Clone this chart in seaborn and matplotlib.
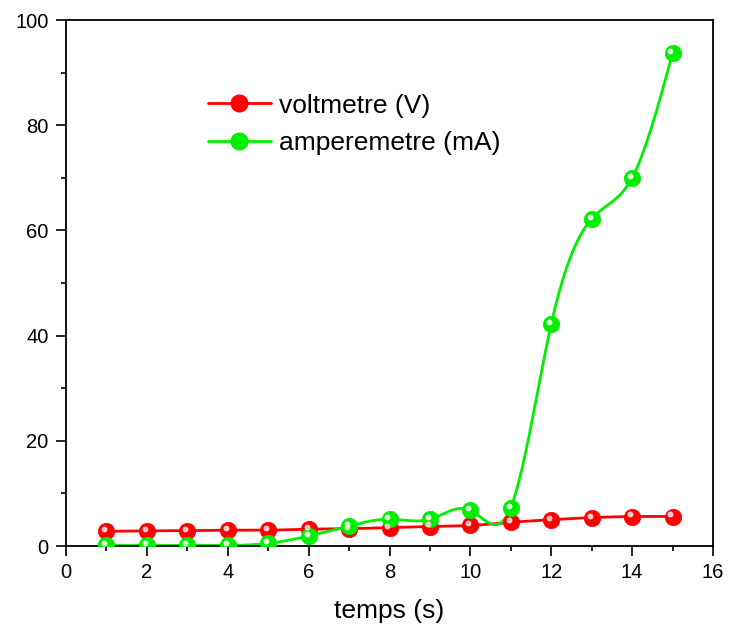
import matplotlib.pyplot as plt
import matplotlib.transforms as mtransforms
from matplotlib.lines import Line2D
import seaborn as sns
import numpy as np

temps = [1, 2, 3, 4, 5, 6, 7, 8, 9, 10, 11, 12, 13, 14, 15]
voltmetre = [2.8, 2.85, 2.9, 3.0, 3.0, 3.2, 3.3, 3.5, 3.7, 3.9, 4.5, 5.0, 5.4, 5.6, 5.6]
amperemetre = [0.1, 0.1, 0.1, 0.1, 0.5, 1.9, 3.8, 5.1, 5.1, 6.8, 7.3, 42.2, 62.2, 70.0, 93.7]


def spline(x, y, n=400):
    # natural cubic spline, like Origin's smoothed line
    x = np.asarray(x, float)
    y = np.asarray(y, float)
    k = len(x)
    h = np.diff(x)
    A = np.zeros((k, k))
    b = np.zeros(k)
    A[0, 0] = A[-1, -1] = 1
    for i in range(1, k - 1):
        A[i, i - 1] = h[i - 1]
        A[i, i] = 2 * (h[i - 1] + h[i])
        A[i, i + 1] = h[i]
        b[i] = 3 * ((y[i + 1] - y[i]) / h[i] - (y[i] - y[i - 1]) / h[i - 1])
    c = np.linalg.solve(A, b)
    xs = np.linspace(x[0], x[-1], n)
    idx = np.clip(np.searchsorted(x, xs) - 1, 0, k - 2)
    dx = xs - x[idx]
    bb = (y[idx + 1] - y[idx]) / h[idx] - h[idx] * (2 * c[idx] + c[idx + 1]) / 3
    dd = (c[idx + 1] - c[idx]) / (3 * h[idx])
    return xs, y[idx] + bb * dx + c[idx] * dx ** 2 + dd * dx ** 3


sns.set_style("ticks")
plt.rcParams['font.family'] = ['Liberation Sans', 'DejaVu Sans']
plt.rcParams['text.color'] = 'black'

fig, ax = plt.subplots(figsize=(7.36, 6.34), dpi=100)
fig.subplots_adjust(left=66 / 736, right=713 / 736, top=1 - 20 / 634, bottom=1 - 546 / 634)

series = [(voltmetre, '#ff0000', '#ffc8c8', 'voltmetre (V)'),
          (amperemetre, '#00ee00', '#e0ffe0', 'amperemetre (mA)')]
hl = mtransforms.offset_copy(ax.transData, fig=fig, x=-1.5, y=1.5, units='points')
handles = []
for vals, col, light, lab in series:
    xs, ys = spline(temps, vals)
    sns.lineplot(x=xs, y=ys, color=col, lw=2, ax=ax, zorder=2)
    sns.scatterplot(x=temps, y=vals, color=col, s=140, edgecolor=col, linewidth=0.5, ax=ax, zorder=3)
    ax.scatter(temps, vals, color=light, s=18, linewidths=0, transform=hl, zorder=4)
    handles.append(Line2D([], [], color=col, lw=2, marker='o', markersize=12,
                          markerfacecolor=col, markeredgecolor=col, label=lab))

ax.set_xlim(0, 16)
ax.set_ylim(0, 100)
ax.set_xticks(range(0, 17, 2))
ax.set_xticks(range(1, 16, 2), minor=True)
ax.set_yticks(range(0, 101, 20))
ax.set_yticks(range(10, 100, 20), minor=True)
ax.tick_params(which='major', length=7.5, width=1.2, labelsize=14.5, color='black',
               labelcolor='black', pad=5)
ax.tick_params(which='minor', length=3.5, width=1.2, color='black')
for s in ax.spines.values():
    s.set_visible(True)
    s.set_linewidth(1.3)
    s.set_color('black')
ax.set_xlabel('temps (s)', fontsize=19, labelpad=12, color='black')
ax.set_ylabel('')

ax.legend(handles=handles, loc='upper left', bbox_to_anchor=(0.219, 0.86), frameon=False,
          borderpad=0, borderaxespad=0, fontsize=19, handlelength=2.4,
          handletextpad=0.3, labelspacing=0.5, labelcolor='black')

fig.savefig('out.png', dpi=100)
